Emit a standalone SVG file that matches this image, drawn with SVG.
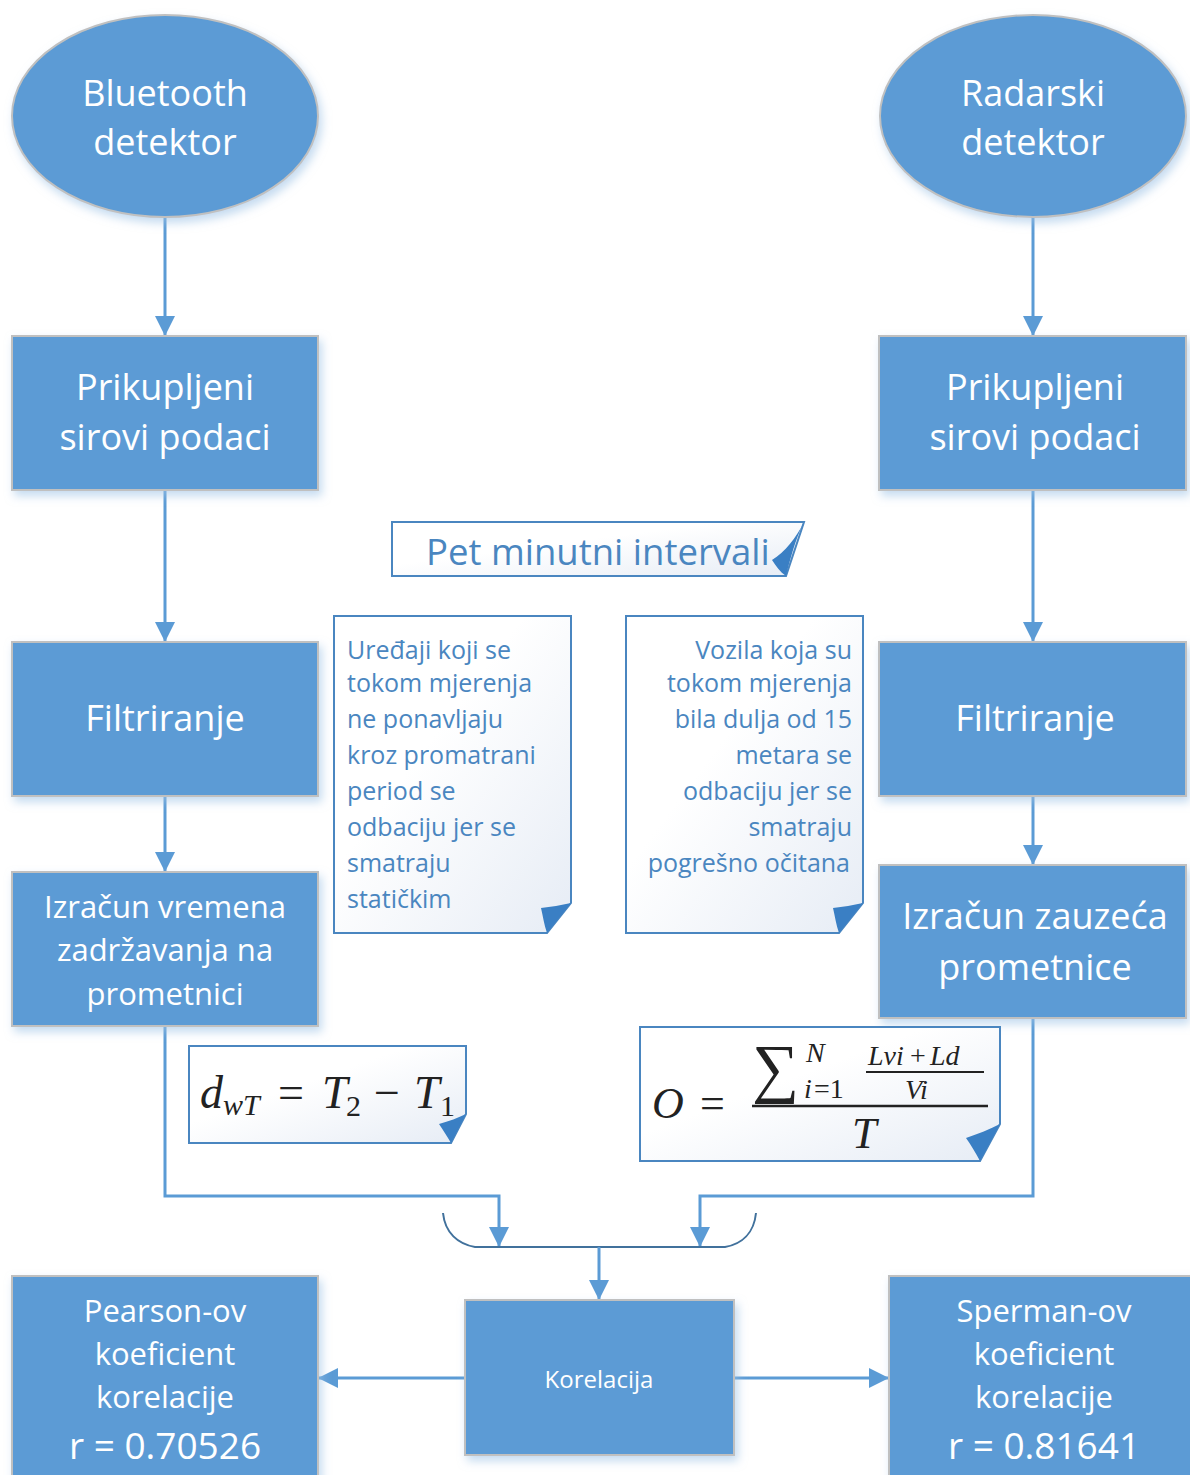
<svg xmlns="http://www.w3.org/2000/svg" width="1190" height="1475" viewBox="0 0 1190 1475">
<defs>
<filter id="sh" x="-10%" y="-10%" width="125%" height="130%">
<feDropShadow dx="3" dy="5" stdDeviation="5" flood-color="#9dc3e6" flood-opacity="0.6"/>
</filter>
<linearGradient id="ng" x1="0" y1="0" x2="1" y2="1">
<stop offset="0.4" stop-color="#ffffff"/>
<stop offset="1" stop-color="#e6ecf5"/>
</linearGradient>
<marker id="ah" viewBox="0 0 20 20" refX="20" refY="10" markerWidth="20" markerHeight="20" markerUnits="userSpaceOnUse" orient="auto">
<path d="M0,0 L20,10 L0,20 Z" fill="#5b9bd5"/>
</marker>
</defs>
<style>
.node{fill:#5b9bd5;stroke:#c0c0c0;stroke-width:2;filter:url(#sh)}
.t{font-family:"Open Sans","Lato","Liberation Sans",sans-serif;fill:#ffffff;text-anchor:middle}
.conn{fill:none;stroke:#5b9bd5;stroke-width:3}
.note{fill:url(#ng);stroke:#4a86c0;stroke-width:2}
.fold{fill:#3a7fc4}
.nt{font-family:"Open Sans","Lato","Liberation Sans",sans-serif;fill:#4a86c0;font-size:25px}
.m{font-family:"Liberation Serif","DejaVu Serif",serif;fill:#222222}
</style>

<g id="connectors">
<path class="conn" d="M165,217 V336" marker-end="url(#ah)"/>
<path class="conn" d="M165,490 V642" marker-end="url(#ah)"/>
<path class="conn" d="M165,796 V872" marker-end="url(#ah)"/>
<path class="conn" d="M1033,217 V336" marker-end="url(#ah)"/>
<path class="conn" d="M1033,490 V642" marker-end="url(#ah)"/>
<path class="conn" d="M1033,796 V865" marker-end="url(#ah)"/>
<path class="conn" d="M165,1026 V1196 H499 V1247" marker-end="url(#ah)"/>
<path class="conn" d="M1033,1018 V1196 H700 V1247" marker-end="url(#ah)"/>
<path d="M443,1213 C445,1233 458,1244 475,1247 L725,1247 C742,1244 754,1233 756,1213" fill="none" stroke="#41719c" stroke-width="2"/>
<path class="conn" d="M599,1247 V1300" marker-end="url(#ah)"/>
<path class="conn" d="M465,1378 H318" marker-end="url(#ah)"/>
<path class="conn" d="M734,1378 H889" marker-end="url(#ah)"/>
</g>

<g id="bluetooth">
<ellipse class="node" cx="165" cy="116" rx="153" ry="101"/>
<text class="t" font-size="36" x="165" y="106">Bluetooth</text>
<text class="t" font-size="36" x="165" y="155">detektor</text>
</g>
<g id="radarski">
<ellipse class="node" cx="1033" cy="116" rx="153" ry="101"/>
<text class="t" font-size="36" x="1033" y="106">Radarski</text>
<text class="t" font-size="36" x="1033" y="155">detektor</text>
</g>

<g id="prikupljeni-left">
<rect class="node" x="12" y="336" width="306" height="154"/>
<text class="t" font-size="36" x="165" y="400">Prikupljeni</text>
<text class="t" font-size="36" x="165" y="450">sirovi podaci</text>
</g>
<g id="prikupljeni-right">
<rect class="node" x="879" y="336" width="307" height="154"/>
<text class="t" font-size="36" x="1035" y="400">Prikupljeni</text>
<text class="t" font-size="36" x="1035" y="450">sirovi podaci</text>
</g>

<g id="filtriranje-left">
<rect class="node" x="12" y="642" width="306" height="154"/>
<text class="t" font-size="36" x="165" y="731">Filtriranje</text>
</g>
<g id="filtriranje-right">
<rect class="node" x="879" y="642" width="307" height="154"/>
<text class="t" font-size="36" x="1035" y="731">Filtriranje</text>
</g>

<g id="izracun-vremena">
<rect class="node" x="12" y="872" width="306" height="154"/>
<text class="t" font-size="31" x="165" y="918">Izračun vremena</text>
<text class="t" font-size="31" x="165" y="961">zadržavanja na</text>
<text class="t" font-size="31" x="165" y="1005">prometnici</text>
</g>
<g id="izracun-zauzeca">
<rect class="node" x="879" y="865" width="307" height="153"/>
<text class="t" font-size="36" x="1035" y="929">Izračun zauzeća</text>
<text class="t" font-size="36" x="1035" y="980">prometnice</text>
</g>

<g id="pet-minutni">
<path class="note" d="M392,522 H804 L786,576 H392 Z"/>
<path class="fold" d="M804,522 C795,540 790,560 786,576 C780,572 776,566 772,560 C785,552 796,538 804,522 Z"/>
<text class="nt" style="font-size:36.5px" x="426" y="565">Pet minutni intervali</text>
</g>

<g id="note-left">
<path class="note" d="M334,616 H571 V903 L547,933 H334 Z"/>
<path class="fold" d="M571,903 L547,933 C544,925 543,916 541,908 C551,907 561,905 571,903 Z"/>
<text class="nt" x="347" y="659">Uređaji koji se</text>
<text class="nt" x="347" y="692">tokom mjerenja</text>
<text class="nt" x="347" y="728">ne ponavljaju</text>
<text class="nt" x="347" y="764">kroz promatrani</text>
<text class="nt" x="347" y="800">period se</text>
<text class="nt" x="347" y="836">odbaciju jer se</text>
<text class="nt" x="347" y="872">smatraju</text>
<text class="nt" x="347" y="908">statičkim</text>
</g>

<g id="note-right">
<path class="note" d="M626,616 H863 V903 L839,933 H626 Z"/>
<path class="fold" d="M863,903 L839,933 C836,925 835,916 833,908 C843,907 853,905 863,903 Z"/>
<g style="text-anchor:end">
<text class="nt" x="852" y="659">Vozila koja su</text>
<text class="nt" x="852" y="692">tokom mjerenja</text>
<text class="nt" x="852" y="728">bila dulja od 15</text>
<text class="nt" x="852" y="764">metara se</text>
<text class="nt" x="852" y="800">odbaciju jer se</text>
<text class="nt" x="852" y="836">smatraju</text>
<text class="nt" x="850" y="872">pogrešno očitana</text>
</g>
</g>

<g id="formula-left">
<path class="note" d="M189,1046 H466 V1114 L451,1143 H189 Z"/>
<path class="fold" d="M466,1114 L451,1143 C447,1136 443,1130 439,1124 C449,1121 458,1118 466,1114 Z"/>
<text class="m" font-size="46" x="200" y="1108" font-style="italic">d</text>
<text class="m" font-size="30" x="223" y="1115" font-style="italic">wT</text>
<text class="m" font-size="46" x="278" y="1108">=</text>
<text class="m" font-size="46" x="322" y="1108" font-style="italic">T</text>
<text class="m" font-size="30" x="346" y="1116">2</text>
<text class="m" font-size="46" x="374" y="1108">−</text>
<text class="m" font-size="46" x="414" y="1108" font-style="italic">T</text>
<text class="m" font-size="30" x="440" y="1116">1</text>
</g>

<g id="formula-right">
<path class="note" d="M640,1027 H1000 V1124 L980,1161 H640 Z"/>
<path class="fold" d="M1000,1124 L980,1161 C975,1152 971,1145 966,1138 C978,1134 990,1129 1000,1124 Z"/>
<text class="m" font-size="44" x="652" y="1118" font-style="italic">O</text>
<text class="m" font-size="44" x="700" y="1118">=</text>
<text class="m" font-size="66" x="752" y="1090">∑</text>
<text class="m" font-size="28" x="806" y="1062" font-style="italic">N</text>
<text class="m" font-size="28" x="804" y="1098" font-style="italic">i</text>
<text class="m" font-size="28" x="814" y="1098">=1</text>
<text class="m" font-size="28" x="868" y="1065" font-style="italic">Lvi</text>
<text class="m" font-size="28" x="910" y="1065">+</text>
<text class="m" font-size="28" x="930" y="1065" font-style="italic">Ld</text>
<line x1="866" y1="1072" x2="984" y2="1072" stroke="#222222" stroke-width="2"/>
<text class="m" font-size="28" x="905" y="1099" font-style="italic">Vi</text>
<line x1="752" y1="1106" x2="988" y2="1106" stroke="#222222" stroke-width="2.5"/>
<text class="m" font-size="44" x="852" y="1148" font-style="italic">T</text>
</g>

<g id="korelacija">
<rect class="node" x="465" y="1300" width="269" height="155"/>
<text class="t" font-size="24" x="599" y="1388">Korelacija</text>
</g>

<g id="pearson">
<rect class="node" x="12" y="1276" width="306" height="210"/>
<text class="t" font-size="31" x="165" y="1322">Pearson-ov</text>
<text class="t" font-size="31" x="165" y="1365">koeficient</text>
<text class="t" font-size="31" x="165" y="1408">korelacije</text>
<text class="t" font-size="37" x="165" y="1459">r = 0.70526</text>
</g>
<g id="sperman">
<rect class="node" x="889" y="1276" width="302" height="210"/>
<text class="t" font-size="31" x="1044" y="1322">Sperman-ov</text>
<text class="t" font-size="31" x="1044" y="1365">koeficient</text>
<text class="t" font-size="31" x="1044" y="1408">korelacije</text>
<text class="t" font-size="37" x="1044" y="1459">r = 0.81641</text>
</g>
</svg>
